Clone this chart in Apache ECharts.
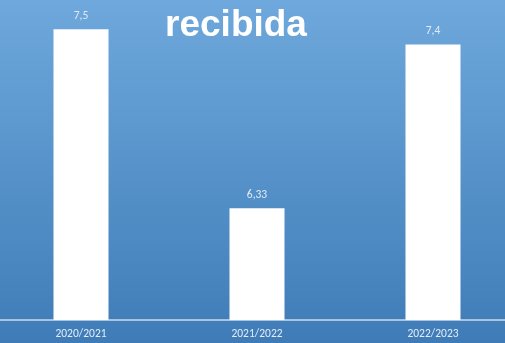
<!DOCTYPE html>
<html>
<head>
<meta charset="utf-8">
<script src="https://cdn.jsdelivr.net/npm/echarts@6/dist/echarts.min.js"></script>
<style>
html,body{margin:0;padding:0;}
#chart{width:505px;height:343px;}
</style>
</head>
<body>
<div id="chart"></div>
<script>
// Academic years and the score received in each
const categories = ['2020/2021', '2021/2022', '2022/2023'];
const values = [7.5, 6.33, 7.4];
const titleText = 'recibida';

const chart = echarts.init(document.getElementById('chart'));
chart.setOption({
  animation: false,
  backgroundColor: {
    type: 'linear', x: 0, y: 0, x2: 0, y2: 1,
    colorStops: [
      { offset: 0, color: '#6ea8dc' },
      { offset: 1, color: '#3f7cb7' }
    ]
  },
  title: {
    text: titleText,
    left: 231,
    textAlign: 'center',
    top: 2,
    textStyle: {
      color: '#ffffff',
      fontFamily: 'Liberation Sans, Arial, sans-serif',
      fontWeight: 'bold',
      fontSize: 37
    }
  },
  grid: {
    left: -7, width: 528, top: 14, bottom: 23,
    outerBoundsMode: 'none',
    containLabel: false
  },
  xAxis: {
    type: 'category',
    data: categories,
    axisLine: { lineStyle: { color: '#c9dbee', width: 1.5 } },
    axisTick: { show: false },
    axisLabel: {
      color: '#e3ecf7',
      fontFamily: 'Calibri, Carlito, Liberation Sans, sans-serif',
      fontSize: 11.5,
      margin: 8
    }
  },
  yAxis: {
    type: 'value',
    min: 5.6,
    max: 7.6,
    show: false,
    splitLine: { show: false }
  },
  series: [{
    type: 'bar',
    data: values,
    barWidth: 55,
    itemStyle: { color: '#ffffff' },
    label: {
      show: true,
      position: 'top',
      distance: 7,
      color: '#dfeaf6',
      fontFamily: 'Calibri, Carlito, Liberation Sans, sans-serif',
      fontSize: 11.5,
      formatter: p => String(p.value).replace('.', ',')
    }
  }]
});
</script>
</body>
</html>
